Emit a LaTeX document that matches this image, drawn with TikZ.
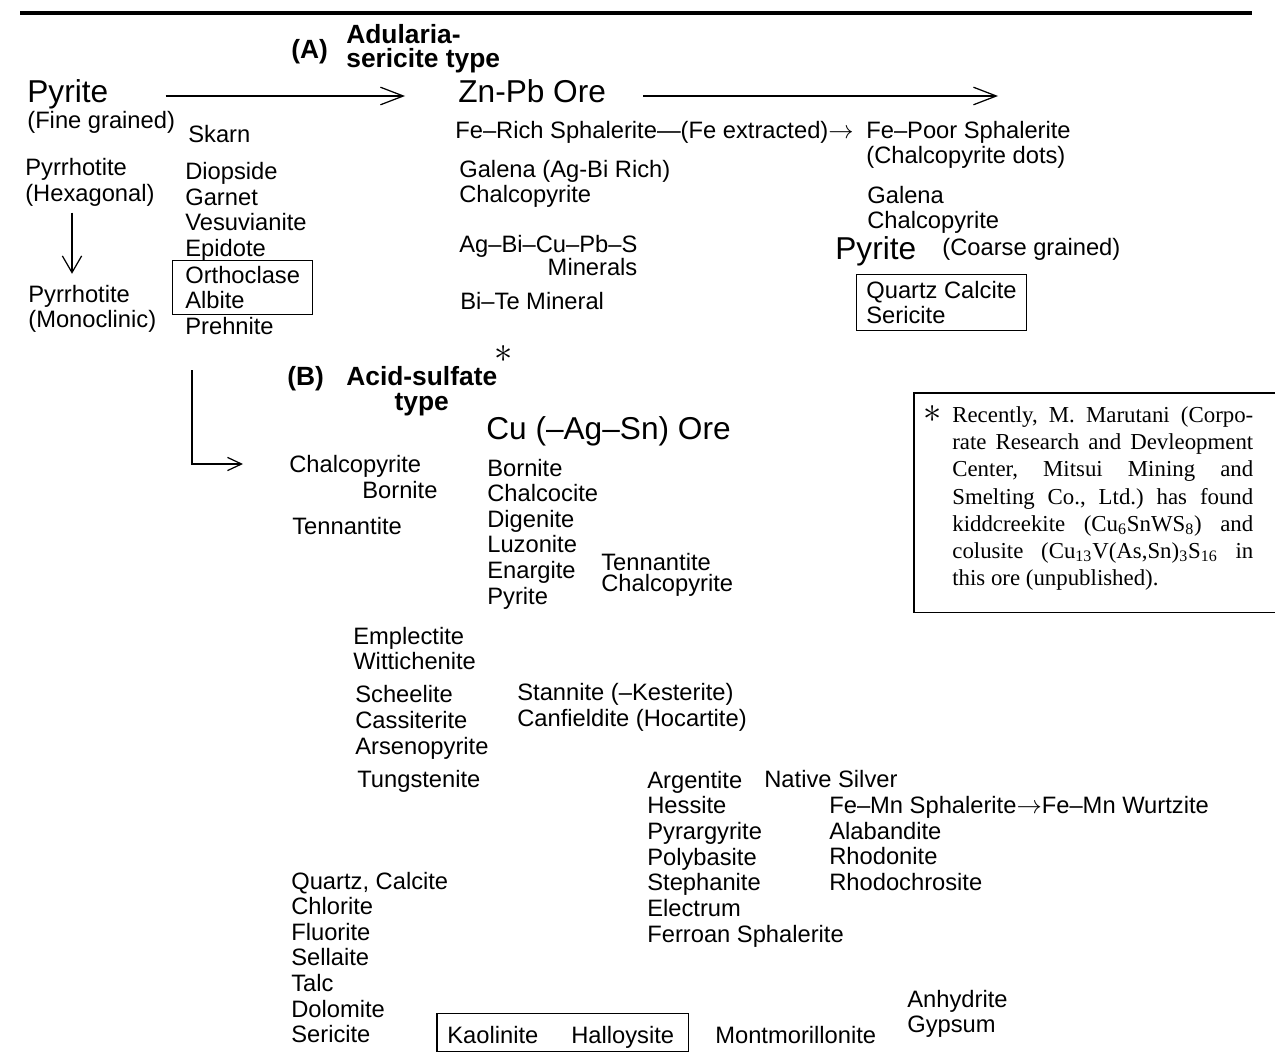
\documentclass[tikz,border=0pt]{standalone}
\usepackage{fontspec}
\setmainfont{Liberation Sans}
\newfontfamily\notefont{Liberation Serif}
\usetikzlibrary{arrows.meta,fit}

\begin{document}
\begin{tikzpicture}[x=0.02cm,y=-0.02cm,
  txt/.style={anchor=west,inner sep=0pt,align=left,font=\fontsize{13.5}{14.6}\selectfont},
  big/.style={txt,font=\fontsize{18}{20}\selectfont},
  head/.style={txt,font=\bfseries\fontsize{15}{14.2}\selectfont},
  frame/.style={draw,line width=0.6pt,inner xsep=7pt,inner ysep=3pt},
  arr/.style={line width=0.7pt,-{Straight Barb[length=13pt,width=10pt]}},
  arrdown/.style={line width=0.7pt,-{Straight Barb[length=9.5pt,width=11pt]}},
  arrsmall/.style={line width=0.7pt,-{Straight Barb[length=8pt,width=7.5pt]}}]
\useasboundingbox (0,0) rectangle (1275,1061);
% rule on top
\draw[line width=2pt] (20,13) -- (1252,13);

% (A) adularia-sericite type
\node[head] (labA) at (291,52) {(A)};
\node[head] (adul) at (346,34.5) {Adularia-};
\node[head] (seric) at (346,60.5) {sericite type};

\node[big] (pyA) at (27,94) {Pyrite};
\node[txt] (fine) at (27,122) {(Fine grained)};
\node[txt] (pyhex) at (25,182.5) {Pyrrhotite\\(Hexagonal)};
\node[txt] (pymono) at (28,309) {Pyrrhotite\\(Monoclinic)};
\draw[arrdown] ([shift={(47,6)}]pyhex.south west) -- ([shift={(44,-11)}]pymono.north west);

\node[txt] (skarn) at (188,134) {Skarn};
\node[txt] (skA) at (185,212) {Diopside\\Garnet\\Vesuvianite\\Epidote};
\node[txt] (orth) at (185,287.5) {Orthoclase\\Albite};
\node[txt] (prehn) at (185,326) {Prehnite};
\node[frame,fit=(orth)] (felds) {};

\node[big] (znpb) at (458,91) {Zn-Pb Ore};
\draw[arr] ([shift={(57,2)}]pyA.east) -- ([shift={(-53,5)}]znpb.west);
\coordinate (endA) at (998,96);
\draw[arr] ([shift={(37,5)}]znpb.east) -- (endA);

\node[txt] (ferich) at (455,132.5) {Fe–Rich Sphalerite—(Fe extracted)$\rightarrow$};
\node[txt] (fepoor) at (866,145) {Fe–Poor Sphalerite\\(Chalcopyrite dots)};
\node[txt] (galA) at (459,184) {Galena (Ag-Bi Rich)\\Chalcopyrite};
\node[txt,align=right,font=\fontsize{13.5}{12}\selectfont] (agbi) at (459,255.5) {Ag–Bi–Cu–Pb–S\\Minerals};
\node[txt] (bite) at (460,301) {Bi–Te Mineral};

\node[txt] (galB) at (867,210) {Galena\\Chalcopyrite};
\node[big] (pyB) at (835,251) {Pyrite};
\node[txt] (coarse) at (942,249.5) {(Coarse grained)};
\node[txt] (qcs) at (866,302.5) {Quartz Calcite\\Sericite};
\node[frame,inner xsep=5.5pt,inner ysep=3.4pt,fit=(qcs)] (qbox) {};

% (B) acid-sulfate type
\node[head] (labB) at (287,379) {(B)};
\node[head,align=center] (typeB) at (346,391) {Acid-sulfate\\type};
\node[inner sep=0pt,font=\fontsize{22}{22}\selectfont] (star) at (504,354) {$\ast$};

\node[big] (cuore) at (486,431) {Cu (–Ag–Sn) Ore};
\coordinate (split) at (192,370);
\node[txt] (chalB) at (289,466) {Chalcopyrite};
\draw[arrsmall] (split) |- ([shift={(-46,-2)}]chalB.west);
\node[txt] (bornB) at (362,490) {Bornite};
\node[txt] (tennB) at (292,526) {Tennantite};
\node[txt] (culist) at (487,534) {Bornite\\Chalcocite\\Digenite\\Luzonite\\Enargite\\Pyrite};
\node[txt,font=\fontsize{13.5}{12}\selectfont] (tenchal) at (601,575) {Tennantite\\Chalcopyrite};

% footnote
\node[anchor=north west,inner sep=0pt,text width=6.02cm,align=justify,
  font=\notefont\fontsize{13}{15.5}\selectfont] (note) at (952,405)
  {\noindent\frenchspacing\makebox[0pt][r]{{\fontsize{20}{20}\selectfont$\ast$}\hspace{6pt}}Recently, M. Marutani (Corpo-\linebreak
  rate Research and Devleopment\linebreak
  Center, Mitsui Mining and\linebreak
  Smelting Co., Ltd.) has found\linebreak
  kiddcreekite (Cu\textsubscript{6}SnWS\textsubscript{8}) and\linebreak
  colusite (Cu\textsubscript{13}V(As,Sn)\textsubscript{3}S\textsubscript{16} in\linebreak
  this ore (unpublished).};
\draw[line width=0.6pt] ([shift={(-38,-12)}]note.north west) rectangle ([shift={(30,22)}]note.south east);

\node[txt] (emp) at (353,648.5) {Emplectite\\Wittichenite};
\node[txt] (sch) at (355,722.5) {Scheelite\\Cassiterite\\Arsenopyrite};
\node[txt] (tung) at (357,781) {Tungstenite};
\node[txt] (stan) at (517,707.5) {Stannite (–Kesterite)\\Canfieldite (Hocartite)};
\node[txt] (argent) at (647,859) {Argentite\\Hessite\\Pyrargyrite\\Polybasite\\Stephanite\\Electrum\\Ferroan Sphalerite};
\node[txt] (silver) at (764,779) {Native Silver};
\node[txt] (femn) at (829,843.5) {Fe–Mn Sphalerite$\rightarrow$Fe–Mn Wurtzite\\Alabandite\\Rhodonite\\Rhodochrosite};

\node[txt] (gangue) at (291,957.5) {Quartz, Calcite\\Chlorite\\Fluorite\\Sellaite\\Talc\\Dolomite\\Sericite};
\node[txt] (kaol) at (447,1035) {Kaolinite};
\node[txt,anchor=base west] (hall) at ([shift={(124,0)}]kaol.base west) {Halloysite};
\draw[line width=0.6pt] ([shift={(-10,-12)}]kaol.north west) rectangle ([shift={(14,3)}]hall.south east);
\node[txt] (mont) at (715,1035) {Montmorillonite};
\node[txt] (anhy) at (907,1014) {Anhydrite\\Gypsum};
\end{tikzpicture}
\end{document}
